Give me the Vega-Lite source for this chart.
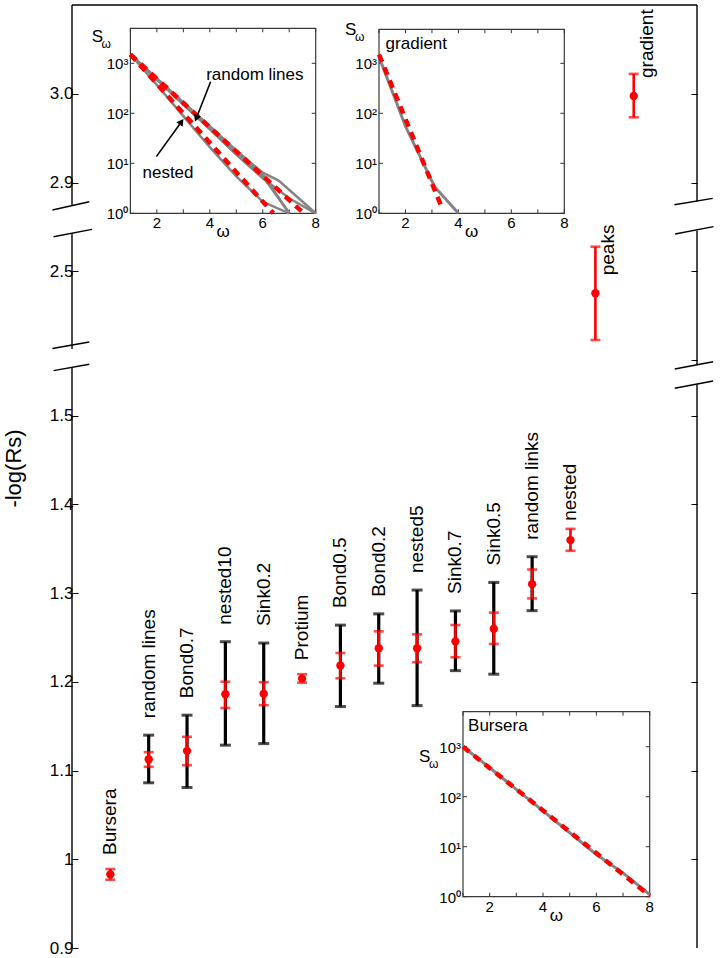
{
  "$schema": "https://vega.github.io/schema/vega-lite/v6.json",
  "width": 625,
  "height": 943,
  "autosize": {"type": "none"},
  "padding": {"left": 72, "top": 5, "right": 23, "bottom": 10},
  "background": "white",
  "config": {
    "view": {"stroke": null},
    "font": "Liberation Sans",
    "axis": {"grid": false, "labelColor": "black", "tickColor": "black", "domainColor": "black", "titleColor": "black", "titleFontWeight": "normal", "labelFlush": false, "labelOverlap": false, "labelFont": "Liberation Sans", "titleFont": "Liberation Sans"}
  },
  "datasets": {
    "yt": [{"v": 1, "lab": "10⁰"}, {"v": 10, "lab": "10¹"}, {"v": 100, "lab": "10²"}, {"v": 1000, "lab": "10³"}],
    "xt": [{"v": 1, "lab": ""}, {"v": 2, "lab": "2"}, {"v": 3, "lab": ""}, {"v": 4, "lab": "4"}, {"v": 5, "lab": ""}, {"v": 6, "lab": "6"}, {"v": 7, "lab": ""}, {"v": 8, "lab": "8"}],
    "om": [{"w": 4.5, "lab": "ω"}]
  },
  "resolve": {"scale": {"x": "independent", "y": "independent"}},
  "layer": [
    {
      "data": {"values": [
        {"name": "Bursera", "x": 1, "mean": 0.983, "rlo": 0.977, "rhi": 0.989, "blo": null, "bhi": null},
        {"name": "random lines", "x": 2, "mean": 1.1128, "rlo": 1.1042, "rhi": 1.1207, "blo": 1.0862, "bhi": 1.1399},
        {"name": "Bond0.7", "x": 3, "mean": 1.1222, "rlo": 1.106, "rhi": 1.138, "blo": 1.0809, "bhi": 1.1624},
        {"name": "nested10", "x": 4, "mean": 1.186, "rlo": 1.1705, "rhi": 1.2001, "blo": 1.1286, "bhi": 1.2452},
        {"name": "Sink0.2", "x": 5, "mean": 1.1866, "rlo": 1.1737, "rhi": 1.1996, "blo": 1.1304, "bhi": 1.2437},
        {"name": "Protium", "x": 6, "mean": 1.2036, "rlo": 1.1991, "rhi": 1.2086, "blo": null, "bhi": null},
        {"name": "Bond0.5", "x": 7, "mean": 1.2183, "rlo": 1.204, "rhi": 1.2325, "blo": 1.1721, "bhi": 1.2639},
        {"name": "Bond0.2", "x": 8, "mean": 1.2378, "rlo": 1.2183, "rhi": 1.2569, "blo": 1.1984, "bhi": 1.2766},
        {"name": "nested5", "x": 9, "mean": 1.2378, "rlo": 1.2221, "rhi": 1.2535, "blo": 1.1732, "bhi": 1.3034},
        {"name": "Sink0.7", "x": 10, "mean": 1.2456, "rlo": 1.2277, "rhi": 1.264, "blo": 1.2126, "bhi": 1.2799},
        {"name": "Sink0.5", "x": 11, "mean": 1.2599, "rlo": 1.2427, "rhi": 1.278, "blo": 1.2086, "bhi": 1.312},
        {"name": "random links", "x": 12, "mean": 1.3101, "rlo": 1.294, "rhi": 1.3266, "blo": 1.2802, "bhi": 1.341},
        {"name": "nested", "x": 13, "mean": 1.3597, "rlo": 1.3477, "rhi": 1.3724, "blo": null, "bhi": null},
        {"name": "peaks", "x": 13.65, "mean": 2.4749, "rlo": 2.4222, "rhi": 2.5274, "blo": null, "bhi": null},
        {"name": "gradient", "x": 14.65, "mean": 2.9977, "rlo": 2.9737, "rhi": 3.0226, "blo": null, "bhi": null}
      ]},
      "resolve": {"axis": {"y": "independent"}},
      "layer": [
        {
          "transform": [{"filter": "isValid(datum.bhi)"}],
          "mark": {"type": "rule", "strokeWidth": 3.2, "color": "black"},
          "encoding": {
            "x": {"field": "x", "type": "quantitative", "scale": {"domain": [0, 16.3], "nice": false, "zero": false},
              "axis": {"orient": "bottom", "values": [2, 4, 6, 8, 10, 12, 14], "labels": false, "tickSize": -6, "domain": true, "domainWidth": 1.3, "title": null}},
            "y": {"field": "blo", "type": "quantitative",
              "scale": {"domain": [0.9, 1.56, 2.385, 2.56, 2.865, 3.1003], "range": [943, 357.4, 368, 212.8, 208.7, 0], "nice": false, "zero": false},
              "axis": {"orient": "left", "values": [0.9, 1, 1.1, 1.2, 1.3, 1.4, 1.5, 2.5, 2.9, 3.0], "labelExpr": "datum.value == 1 ? '1' : format(datum.value, '.1f')", "tickSize": -6, "domain": false, "labelFontSize": 17, "labelPadding": 5, "title": "-log(Rs)", "titleFontSize": 22, "titleX": -47, "titleY": 463}},
            "y2": {"field": "bhi"}
          }
        },
        {
          "transform": [{"filter": "isValid(datum.bhi)"}],
          "mark": {"type": "tick", "orient": "horizontal", "size": 11, "thickness": 3, "color": "black"},
          "encoding": {
            "x": {"field": "x", "type": "quantitative", "axis": null},
            "y": {"field": "blo", "type": "quantitative", "axis": null}
          }
        },
        {
          "transform": [{"filter": "isValid(datum.bhi)"}],
          "mark": {"type": "tick", "orient": "horizontal", "size": 11, "thickness": 3, "color": "black"},
          "encoding": {
            "x": {"field": "x", "type": "quantitative", "axis": null},
            "y": {"field": "bhi", "type": "quantitative", "axis": null}
          }
        },
        {
          "mark": {"type": "rule", "strokeWidth": 2.6, "color": "#ff0000"},
          "encoding": {
            "x": {"field": "x", "type": "quantitative", "axis": null},
            "y": {"field": "rlo", "type": "quantitative", "axis": null},
            "y2": {"field": "rhi"}
          }
        },
        {
          "mark": {"type": "tick", "orient": "horizontal", "size": 10, "thickness": 2.6, "color": "#ff0000"},
          "encoding": {
            "x": {"field": "x", "type": "quantitative", "axis": null},
            "y": {"field": "rlo", "type": "quantitative", "axis": null}
          }
        },
        {
          "mark": {"type": "tick", "orient": "horizontal", "size": 10, "thickness": 2.6, "color": "#ff0000"},
          "encoding": {
            "x": {"field": "x", "type": "quantitative", "axis": null},
            "y": {"field": "rhi", "type": "quantitative", "axis": null}
          }
        },
        {
          "mark": {"type": "point", "filled": true, "size": 70, "color": "#ff0000", "opacity": 1},
          "encoding": {
            "x": {"field": "x", "type": "quantitative", "axis": null},
            "y": {"field": "mean", "type": "quantitative", "axis": null}
          }
        },
        {
          "transform": [{"filter": "isValid(datum.bhi)"}],
          "mark": {"type": "text", "angle": 270, "align": "left", "baseline": "middle", "dx": 17, "fontSize": 19, "color": "black"},
          "encoding": {
            "x": {"field": "x", "type": "quantitative", "axis": null},
            "y": {"field": "bhi", "type": "quantitative", "axis": null},
            "text": {"field": "name"}
          }
        },
        {
          "transform": [{"filter": "!isValid(datum.bhi) && datum.x <= 6"}],
          "mark": {"type": "text", "angle": 270, "align": "left", "baseline": "middle", "dx": 14, "fontSize": 19, "color": "black"},
          "encoding": {
            "x": {"field": "x", "type": "quantitative", "axis": null},
            "y": {"field": "rhi", "type": "quantitative", "axis": null},
            "text": {"field": "name"}
          }
        },
        {
          "transform": [{"filter": "datum.name == 'nested'"}],
          "mark": {"type": "text", "angle": 270, "align": "left", "baseline": "middle", "dx": 8, "fontSize": 19, "color": "black"},
          "encoding": {
            "x": {"field": "x", "type": "quantitative", "axis": null},
            "y": {"field": "rhi", "type": "quantitative", "axis": null},
            "text": {"field": "name"}
          }
        },
        {
          "transform": [{"filter": "datum.x > 13.5"}],
          "mark": {"type": "text", "angle": 270, "align": "left", "baseline": "middle", "dx": 18, "dy": 13, "fontSize": 19, "color": "black"},
          "encoding": {
            "x": {"field": "x", "type": "quantitative", "axis": null},
            "y": {"field": "mean", "type": "quantitative", "axis": null},
            "text": {"field": "name"}
          }
        },
        {
          "data": {"values": [
            {"x1": 16.3, "x2": 16.3, "y1": 0.9, "y2": 1.535},
            {"x1": 16.3, "x2": 16.3, "y1": 2.3936, "y2": 2.5458},
            {"x1": 16.3, "x2": 16.3, "y1": 2.8787, "y2": 3.1003},
            {"x1": 0, "x2": 16.3, "y1": 3.1003, "y2": 3.1003},
            {"x1": -0.51, "x2": 0.45, "y1": 2.8692, "y2": 2.8785},
            {"x1": -0.48, "x2": 0.52, "y1": 2.5387, "y2": 2.547},
            {"x1": -0.51, "x2": 0.45, "y1": 2.4126, "y2": 2.42},
            {"x1": -0.48, "x2": 0.45, "y1": 1.5507, "y2": 1.5579},
            {"x1": 15.71, "x2": 16.71, "y1": 2.8751, "y2": 2.8823},
            {"x1": 15.73, "x2": 16.73, "y1": 2.5417, "y2": 2.55},
            {"x1": 15.72, "x2": 16.72, "y1": 2.3895, "y2": 2.3977},
            {"x1": 15.72, "x2": 16.72, "y1": 1.5309, "y2": 1.5391}
          ]},
          "mark": {"type": "rule", "strokeWidth": 1.4, "color": "black"},
          "encoding": {
            "x": {"field": "x1", "type": "quantitative", "axis": null},
            "x2": {"field": "x2"},
            "y": {"field": "y1", "type": "quantitative",
              "axis": {"orient": "right", "values": [1, 1.1, 1.2, 1.3, 1.4, 1.5, 2.4, 2.5, 2.9, 3.0], "labels": false, "tickSize": -6, "domain": false, "title": null}},
            "y2": {"field": "y2"}
          }
        },
        {
          "data": {"values": [
            {"y1": 0.9, "y2": 1.5543},
            {"y1": 2.412, "y2": 2.5428},
            {"y1": 2.8737, "y2": 3.1003}
          ]},
          "mark": {"type": "rule", "strokeWidth": 1.4, "color": "black"},
          "encoding": {
            "x": {"datum": 0.0, "type": "quantitative", "axis": null},
            "y": {"field": "y1", "type": "quantitative", "axis": null},
            "y2": {"field": "y2"}
          }
        }
      ]
    },
    {
      "layer": [
        {
          "data": {"values": [{}]},
          "mark": {"type": "rect", "fill": "white", "stroke": "#3a3a3a", "strokeWidth": 1.2},
          "encoding": {
            "x": {"datum": 1, "type": "quantitative", "scale": {"domain": [1, 8], "range": [58.4, 243.7], "nice": false, "zero": false}, "axis": null},
            "x2": {"datum": 8},
            "y": {"datum": 1, "type": "quantitative", "scale": {"type": "log", "domain": [1, 5012], "range": [208.3, 23.3], "nice": false}, "axis": null},
            "y2": {"datum": 5012}
          }
        },
        {"data": {"name": "yt"}, "mark": {"type": "rule", "color": "#333", "strokeWidth": 1},
          "encoding": {"x": {"datum": 1, "type": "quantitative", "axis": null}, "x2": {"datum": 1.15}, "y": {"field": "v", "type": "quantitative", "axis": null}}},
        {"data": {"name": "yt"}, "mark": {"type": "rule", "color": "#333", "strokeWidth": 1},
          "encoding": {"x": {"datum": 7.85, "type": "quantitative", "axis": null}, "x2": {"datum": 8}, "y": {"field": "v", "type": "quantitative", "axis": null}}},
        {"data": {"name": "xt"}, "mark": {"type": "rule", "color": "#333", "strokeWidth": 1},
          "encoding": {"x": {"field": "v", "type": "quantitative", "axis": null}, "y": {"datum": 1, "type": "quantitative", "axis": null}, "y2": {"datum": 1.2}}},
        {"data": {"name": "xt"}, "mark": {"type": "rule", "color": "#333", "strokeWidth": 1},
          "encoding": {"x": {"field": "v", "type": "quantitative", "axis": null}, "y": {"datum": 4177, "type": "quantitative", "axis": null}, "y2": {"datum": 5012}}},
        {"data": {"name": "yt"}, "mark": {"type": "text", "align": "right", "baseline": "middle", "dx": -2, "dy": 1, "fontSize": 15, "color": "black"},
          "encoding": {"x": {"datum": 1, "type": "quantitative", "axis": null}, "y": {"field": "v", "type": "quantitative", "axis": null}, "text": {"field": "lab"}}},
        {"data": {"name": "xt"}, "mark": {"type": "text", "align": "center", "baseline": "top", "dy": 3, "fontSize": 15, "color": "black"},
          "encoding": {"x": {"field": "v", "type": "quantitative", "axis": null}, "y": {"datum": 1, "type": "quantitative", "axis": null}, "text": {"field": "lab"}}},
        {"data": {"name": "om"}, "mark": {"type": "text", "align": "center", "baseline": "top", "dy": 11, "fontSize": 17, "color": "black"},
          "encoding": {"x": {"field": "w", "type": "quantitative", "axis": null}, "y": {"datum": 1, "type": "quantitative", "axis": null}, "text": {"field": "lab"}}},
        {
          "data": {"values": [
            {"id": "g1", "w": 1, "s": 1500}, {"id": "g1", "w": 2, "s": 480}, {"id": "g1", "w": 3, "s": 155}, {"id": "g1", "w": 4, "s": 50}, {"id": "g1", "w": 5, "s": 16}, {"id": "g1", "w": 6, "s": 5.5}, {"id": "g1", "w": 7, "s": 1},
            {"id": "g2", "w": 1, "s": 1500}, {"id": "g2", "w": 2, "s": 500}, {"id": "g2", "w": 3, "s": 165}, {"id": "g2", "w": 4, "s": 55}, {"id": "g2", "w": 5, "s": 18}, {"id": "g2", "w": 6, "s": 6.5}, {"id": "g2", "w": 6.6, "s": 4.5}, {"id": "g2", "w": 8, "s": 1},
            {"id": "g3", "w": 1, "s": 1500}, {"id": "g3", "w": 2, "s": 470}, {"id": "g3", "w": 3, "s": 150}, {"id": "g3", "w": 4, "s": 48}, {"id": "g3", "w": 5, "s": 15}, {"id": "g3", "w": 6, "s": 5}, {"id": "g3", "w": 7, "s": 2}, {"id": "g3", "w": 8, "s": 1},
            {"id": "g4", "w": 1, "s": 1500}, {"id": "g4", "w": 2, "s": 490}, {"id": "g4", "w": 3, "s": 160}, {"id": "g4", "w": 4, "s": 52}, {"id": "g4", "w": 5, "s": 17}, {"id": "g4", "w": 6, "s": 6}, {"id": "g4", "w": 7, "s": 1},
            {"id": "n", "w": 1, "s": 1500}, {"id": "n", "w": 2, "s": 370}, {"id": "n", "w": 3, "s": 88}, {"id": "n", "w": 4, "s": 21}, {"id": "n", "w": 5, "s": 5.5}, {"id": "n", "w": 6, "s": 1.7}, {"id": "n", "w": 7, "s": 1}
          ]},
          "mark": {"type": "line", "color": "#848484", "strokeWidth": 2.5},
          "encoding": {
            "x": {"field": "w", "type": "quantitative", "axis": null},
            "y": {"field": "s", "type": "quantitative", "axis": null},
            "detail": {"field": "id"}
          }
        },
        {
          "data": {"values": [
            {"id": "fit random lines", "w": 1, "s": 1500}, {"id": "fit random lines", "w": 7.55, "s": 1},
            {"id": "fit nested", "w": 1, "s": 1500}, {"id": "fit nested", "w": 6.4, "s": 1}
          ]},
          "mark": {"type": "line", "color": "#ff0000", "strokeWidth": 4.5, "strokeDash": [8, 6]},
          "encoding": {
            "x": {"field": "w", "type": "quantitative", "axis": null},
            "y": {"field": "s", "type": "quantitative", "axis": null},
            "detail": {"field": "id"}
          }
        },
        {
          "data": {"values": [
            {"w1": 4.03, "s1": 429, "w2": 3.49, "s2": 79.4},
            {"w1": 1.98, "s1": 13.6, "w2": 2.93, "s2": 68}
          ]},
          "mark": {"type": "rule", "color": "black", "strokeWidth": 1.6},
          "encoding": {
            "x": {"field": "w1", "type": "quantitative", "axis": null},
            "x2": {"field": "w2"},
            "y": {"field": "s1", "type": "quantitative", "axis": null},
            "y2": {"field": "s2"}
          }
        },
        {
          "data": {"values": [{"w": 3.49, "s": 79.4}]},
          "mark": {"type": "point", "shape": "triangle-up", "filled": true, "color": "black", "size": 60, "angle": 201, "opacity": 1},
          "encoding": {
            "x": {"field": "w", "type": "quantitative", "axis": null},
            "y": {"field": "s", "type": "quantitative", "axis": null}
          }
        },
        {
          "data": {"values": [{"w": 2.93, "s": 68}]},
          "mark": {"type": "point", "shape": "triangle-up", "filled": true, "color": "black", "size": 60, "angle": 35.5, "opacity": 1},
          "encoding": {
            "x": {"field": "w", "type": "quantitative", "axis": null},
            "y": {"field": "s", "type": "quantitative", "axis": null}
          }
        },
        {
          "data": {"values": [
            {"label": "random lines", "w": 5.7, "s": 583},
            {"label": "nested", "w": 2.42, "s": 6.3}
          ]},
          "mark": {"type": "text", "fontSize": 17, "align": "center", "baseline": "middle", "color": "black"},
          "encoding": {
            "x": {"field": "w", "type": "quantitative", "axis": null},
            "y": {"field": "s", "type": "quantitative", "axis": null},
            "text": {"field": "label"}
          }
        },
        {
          "data": {"values": [{"w": -0.25, "s": 3300}]},
          "mark": {"type": "text", "text": "S", "fontSize": 17, "align": "center", "baseline": "middle", "color": "black"},
          "encoding": {
            "x": {"field": "w", "type": "quantitative", "axis": null},
            "y": {"field": "s", "type": "quantitative", "axis": null}
          }
        },
        {
          "data": {"values": [{"w": -0.25, "s": 3300}]},
          "mark": {"type": "text", "text": "ω", "fontSize": 12, "align": "center", "baseline": "middle", "dx": 9, "dy": 7, "color": "black"},
          "encoding": {
            "x": {"field": "w", "type": "quantitative", "axis": null},
            "y": {"field": "s", "type": "quantitative", "axis": null}
          }
        }
      ]
    },
    {
      "layer": [
        {
          "data": {"values": [{}]},
          "mark": {"type": "rect", "fill": "white", "stroke": "#3a3a3a", "strokeWidth": 1.2},
          "encoding": {
            "x": {"datum": 1, "type": "quantitative", "scale": {"domain": [1, 8], "range": [307, 492.3], "nice": false, "zero": false}, "axis": null},
            "x2": {"datum": 8},
            "y": {"datum": 1, "type": "quantitative", "scale": {"type": "log", "domain": [1, 4786], "range": [208.3, 24.3], "nice": false}, "axis": null},
            "y2": {"datum": 4786}
          }
        },
        {"data": {"name": "yt"}, "mark": {"type": "rule", "color": "#333", "strokeWidth": 1},
          "encoding": {"x": {"datum": 1, "type": "quantitative", "axis": null}, "x2": {"datum": 1.15}, "y": {"field": "v", "type": "quantitative", "axis": null}}},
        {"data": {"name": "yt"}, "mark": {"type": "rule", "color": "#333", "strokeWidth": 1},
          "encoding": {"x": {"datum": 7.85, "type": "quantitative", "axis": null}, "x2": {"datum": 8}, "y": {"field": "v", "type": "quantitative", "axis": null}}},
        {"data": {"name": "xt"}, "mark": {"type": "rule", "color": "#333", "strokeWidth": 1},
          "encoding": {"x": {"field": "v", "type": "quantitative", "axis": null}, "y": {"datum": 1, "type": "quantitative", "axis": null}, "y2": {"datum": 1.2}}},
        {"data": {"name": "xt"}, "mark": {"type": "rule", "color": "#333", "strokeWidth": 1},
          "encoding": {"x": {"field": "v", "type": "quantitative", "axis": null}, "y": {"datum": 3988, "type": "quantitative", "axis": null}, "y2": {"datum": 4786}}},
        {"data": {"name": "yt"}, "mark": {"type": "text", "align": "right", "baseline": "middle", "dx": -2, "dy": 1, "fontSize": 15, "color": "black"},
          "encoding": {"x": {"datum": 1, "type": "quantitative", "axis": null}, "y": {"field": "v", "type": "quantitative", "axis": null}, "text": {"field": "lab"}}},
        {"data": {"name": "xt"}, "mark": {"type": "text", "align": "center", "baseline": "top", "dy": 3, "fontSize": 15, "color": "black"},
          "encoding": {"x": {"field": "v", "type": "quantitative", "axis": null}, "y": {"datum": 1, "type": "quantitative", "axis": null}, "text": {"field": "lab"}}},
        {"data": {"name": "om"}, "mark": {"type": "text", "align": "center", "baseline": "top", "dy": 11, "fontSize": 17, "color": "black"},
          "encoding": {"x": {"field": "w", "type": "quantitative", "axis": null}, "y": {"datum": 1, "type": "quantitative", "axis": null}, "text": {"field": "lab"}}},
        {
          "data": {"values": [
            {"w": 1, "s": 1350}, {"w": 2, "s": 55}, {"w": 3.1, "s": 3.4}, {"w": 4, "s": 1}
          ]},
          "mark": {"type": "line", "color": "#848484", "strokeWidth": 3},
          "encoding": {
            "x": {"field": "w", "type": "quantitative", "axis": null},
            "y": {"field": "s", "type": "quantitative", "axis": null}
          }
        },
        {
          "data": {"values": [
            {"w": 1, "s": 1500}, {"w": 3.36, "s": 1.36}
          ]},
          "mark": {"type": "line", "color": "#ff0000", "strokeWidth": 4.5, "strokeDash": [8, 6]},
          "encoding": {
            "x": {"field": "w", "type": "quantitative", "axis": null},
            "y": {"field": "s", "type": "quantitative", "axis": null}
          }
        },
        {
          "data": {"values": [{"label": "gradient", "w": 1.25, "s": 2377}]},
          "mark": {"type": "text", "fontSize": 17, "align": "left", "baseline": "middle", "color": "black"},
          "encoding": {
            "x": {"field": "w", "type": "quantitative", "axis": null},
            "y": {"field": "s", "type": "quantitative", "axis": null},
            "text": {"field": "label"}
          }
        },
        {
          "data": {"values": [{"w": -0.07, "s": 4634}]},
          "mark": {"type": "text", "text": "S", "fontSize": 17, "align": "center", "baseline": "middle", "color": "black"},
          "encoding": {
            "x": {"field": "w", "type": "quantitative", "axis": null},
            "y": {"field": "s", "type": "quantitative", "axis": null}
          }
        },
        {
          "data": {"values": [{"w": -0.07, "s": 4634}]},
          "mark": {"type": "text", "text": "ω", "fontSize": 12, "align": "center", "baseline": "middle", "dx": 9, "dy": 7, "color": "black"},
          "encoding": {
            "x": {"field": "w", "type": "quantitative", "axis": null},
            "y": {"field": "s", "type": "quantitative", "axis": null}
          }
        }
      ]
    },
    {
      "layer": [
        {
          "data": {"values": [{}]},
          "mark": {"type": "rect", "fill": "white", "stroke": "#3a3a3a", "strokeWidth": 1.2},
          "encoding": {
            "x": {"datum": 1, "type": "quantitative", "scale": {"domain": [1, 8], "range": [391, 577.7], "nice": false, "zero": false}, "axis": null},
            "x2": {"datum": 8},
            "y": {"datum": 1, "type": "quantitative", "scale": {"type": "log", "domain": [1, 5012], "range": [891.7, 706.7], "nice": false}, "axis": null},
            "y2": {"datum": 5012}
          }
        },
        {"data": {"name": "yt"}, "mark": {"type": "rule", "color": "#333", "strokeWidth": 1},
          "encoding": {"x": {"datum": 1, "type": "quantitative", "axis": null}, "x2": {"datum": 1.15}, "y": {"field": "v", "type": "quantitative", "axis": null}}},
        {"data": {"name": "yt"}, "mark": {"type": "rule", "color": "#333", "strokeWidth": 1},
          "encoding": {"x": {"datum": 7.85, "type": "quantitative", "axis": null}, "x2": {"datum": 8}, "y": {"field": "v", "type": "quantitative", "axis": null}}},
        {"data": {"name": "xt"}, "mark": {"type": "rule", "color": "#333", "strokeWidth": 1},
          "encoding": {"x": {"field": "v", "type": "quantitative", "axis": null}, "y": {"datum": 1, "type": "quantitative", "axis": null}, "y2": {"datum": 1.2}}},
        {"data": {"name": "xt"}, "mark": {"type": "rule", "color": "#333", "strokeWidth": 1},
          "encoding": {"x": {"field": "v", "type": "quantitative", "axis": null}, "y": {"datum": 4177, "type": "quantitative", "axis": null}, "y2": {"datum": 5012}}},
        {"data": {"name": "yt"}, "mark": {"type": "text", "align": "right", "baseline": "middle", "dx": -2, "dy": 1, "fontSize": 15, "color": "black"},
          "encoding": {"x": {"datum": 1, "type": "quantitative", "axis": null}, "y": {"field": "v", "type": "quantitative", "axis": null}, "text": {"field": "lab"}}},
        {"data": {"name": "xt"}, "mark": {"type": "text", "align": "center", "baseline": "top", "dy": 3, "fontSize": 15, "color": "black"},
          "encoding": {"x": {"field": "v", "type": "quantitative", "axis": null}, "y": {"datum": 1, "type": "quantitative", "axis": null}, "text": {"field": "lab"}}},
        {"data": {"name": "om"}, "mark": {"type": "text", "align": "center", "baseline": "top", "dy": 11, "fontSize": 17, "color": "black"},
          "encoding": {"x": {"field": "w", "type": "quantitative", "axis": null}, "y": {"datum": 1, "type": "quantitative", "axis": null}, "text": {"field": "lab"}}},
        {
          "data": {"values": [
            {"w": 1, "s": 1000}, {"w": 2, "s": 380}, {"w": 3, "s": 140}, {"w": 4, "s": 52}, {"w": 5, "s": 19}, {"w": 6, "s": 7}, {"w": 7, "s": 3}, {"w": 8, "s": 1.1}
          ]},
          "mark": {"type": "line", "color": "#848484", "strokeWidth": 3},
          "encoding": {
            "x": {"field": "w", "type": "quantitative", "axis": null},
            "y": {"field": "s", "type": "quantitative", "axis": null}
          }
        },
        {
          "data": {"values": [
            {"w": 1, "s": 1000}, {"w": 8, "s": 1.05}
          ]},
          "mark": {"type": "line", "color": "#ff0000", "strokeWidth": 4.5, "strokeDash": [8, 6]},
          "encoding": {
            "x": {"field": "w", "type": "quantitative", "axis": null},
            "y": {"field": "s", "type": "quantitative", "axis": null}
          }
        },
        {
          "data": {"values": [{"label": "Bursera", "w": 1.19, "s": 2594}]},
          "mark": {"type": "text", "fontSize": 17, "align": "left", "baseline": "middle", "color": "black"},
          "encoding": {
            "x": {"field": "w", "type": "quantitative", "axis": null},
            "y": {"field": "s", "type": "quantitative", "axis": null},
            "text": {"field": "label"}
          }
        },
        {
          "data": {"values": [{"w": -0.436, "s": 622}]},
          "mark": {"type": "text", "text": "S", "fontSize": 17, "align": "center", "baseline": "middle", "color": "black"},
          "encoding": {
            "x": {"field": "w", "type": "quantitative", "axis": null},
            "y": {"field": "s", "type": "quantitative", "axis": null}
          }
        },
        {
          "data": {"values": [{"w": -0.436, "s": 622}]},
          "mark": {"type": "text", "text": "ω", "fontSize": 12, "align": "center", "baseline": "middle", "dx": 9, "dy": 7, "color": "black"},
          "encoding": {
            "x": {"field": "w", "type": "quantitative", "axis": null},
            "y": {"field": "s", "type": "quantitative", "axis": null}
          }
        }
      ]
    }
  ]
}
